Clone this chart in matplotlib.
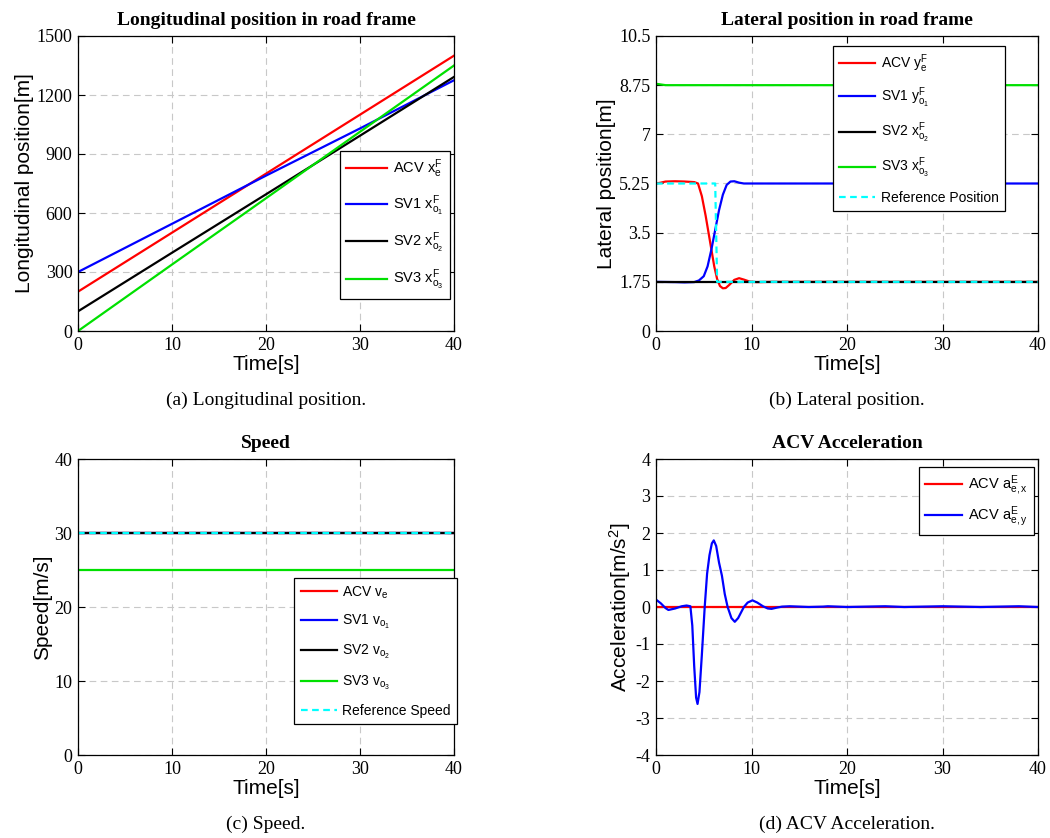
import numpy as np
import matplotlib
matplotlib.use("Agg")
import matplotlib.pyplot as plt

plt.rcParams['mathtext.fontset'] = 'custom'
plt.rcParams['mathtext.rm'] = 'Liberation Sans'
plt.rcParams['mathtext.it'] = 'Liberation Sans'

SERIF = 'Liberation Serif'
SANS = 'Liberation Sans'

# ---------------- data ----------------
# (a) longitudinal position
t_a = [0, 10, 20, 30, 40]
acv_x = [200, 500, 800, 1100, 1400]
sv1_x = [300, 545, 790, 1030, 1275]
sv2_x = [100, 398, 695, 993, 1292]
sv3_x = [0, 338, 675, 1013, 1350]

# (b) lateral position
t_acv_y = [0, 0.5, 1, 2, 3, 4, 4.4, 4.8, 5.2, 5.5, 5.8, 6.1, 6.4, 6.7, 7.0, 7.3, 7.7,
           8.2, 8.7, 9.2, 9.8, 10.5, 12, 20, 30, 40]
acv_y = [5.25, 5.28, 5.32, 5.33, 5.32, 5.30, 5.25, 4.8, 4.1, 3.5, 2.9, 2.3, 1.85, 1.6,
         1.52, 1.53, 1.65, 1.82, 1.88, 1.83, 1.76, 1.74, 1.75, 1.75, 1.75, 1.75]
t_sv1_y = [0, 2, 3, 4, 4.5, 5, 5.4, 5.8, 6.2, 6.6, 7.0, 7.4, 7.8, 8.2, 8.7, 9.2, 20, 40]
sv1_y = [1.75, 1.74, 1.73, 1.74, 1.80, 1.95, 2.3, 2.9, 3.6, 4.3, 4.85, 5.2, 5.32, 5.33,
         5.28, 5.25, 5.25, 5.25]
t_sv2_y = [0, 40]
sv2_y = [1.73, 1.73]
t_sv3_y = [0, 1, 40]
sv3_y = [8.8, 8.75, 8.75]
t_ref_y = [0, 6.2, 6.4, 40]
ref_y = [5.25, 5.25, 1.75, 1.75]

# (c) speed
t_c = [0, 40]
acv_v = [30, 30]
sv1_v = [30, 30]
sv2_v = [30, 30]
sv3_v = [25, 25]
ref_v = [30, 30]

# (d) ACV acceleration
t_ax = [0, 40]
acc_x = [0, 0]
t_ay = [0, 0.5, 1, 1.3, 2, 2.7, 3.2, 3.6, 3.8, 4.0, 4.2, 4.35, 4.55, 4.8, 5.1, 5.35, 5.6,
        5.85, 6.05, 6.3, 6.6, 6.9, 7.2, 7.5, 7.9, 8.25, 8.6, 9.2, 9.6, 10.1, 10.6, 11.2,
        11.7, 12.1, 12.6, 13.2, 14, 15, 16, 17.5, 18, 19, 20, 22, 24, 26, 28, 30, 32,
        34, 36, 38, 40]
acc_y = [0.2, 0.1, -0.03, -0.08, -0.04, 0.02, 0.04, 0.02, -0.5, -1.6, -2.45, -2.62,
         -2.3, -1.3, 0.0, 0.9, 1.4, 1.72, 1.8, 1.65, 1.2, 0.85, 0.35, 0.0, -0.3, -0.4,
         -0.3, 0.0, 0.12, 0.18, 0.12, 0.02, -0.04, -0.05, -0.02, 0.01, 0.02, 0.01, 0.0,
         0.01, 0.02, 0.01, 0.0, 0.01, 0.02, 0.0, 0.01, 0.02, 0.01, 0.0, 0.01, 0.02, 0.0]

x_ticks = [0, 10, 20, 30, 40]

# ---------------- figure ----------------
W, H = 1050, 838
fig = plt.figure(figsize=(W / 100, H / 100), dpi=100)


def make_ax(x0, y0, x1, y1):
    return fig.add_axes([x0 / W, 1 - y1 / H, (x1 - x0) / W, (y1 - y0) / H])


def style(ax, title, ylabel, yticks, yticklabels, ylim, caption):
    ax.set_xlim(0, 40)
    ax.set_ylim(*ylim)
    ax.set_xticks(x_ticks)
    ax.set_yticks(yticks)
    ax.set_xticklabels([str(v) for v in x_ticks], fontfamily=SERIF, fontsize=13)
    ax.set_yticklabels(yticklabels, fontfamily=SERIF, fontsize=13)
    ax.tick_params(direction='in', top=True, right=True, length=5, width=0.8, pad=4)
    ax.grid(True, color='#c8c8c8', linestyle=(0, (6, 4)), linewidth=0.8)
    ax.set_axisbelow(True)
    for s in ax.spines.values():
        s.set_linewidth(0.9)
    ax.set_title(title, fontfamily=SERIF, fontweight='bold', fontsize=14, pad=8)
    ax.set_xlabel('Time[s]', fontfamily=SANS, fontsize=15, labelpad=1)
    ax.set_ylabel(ylabel, fontfamily=SANS, fontsize=15, labelpad=2)
    ax.text(0.5, caption[1], caption[0], transform=ax.transAxes, ha='center', va='center',
            fontfamily=SERIF, fontsize=14)


lw = 1.6


def add_legend(ax, size, anchor, spacing, hl=2.6):
    leg = ax.legend(prop={'family': SANS, 'size': size}, frameon=True, fancybox=False,
                    edgecolor='black', framealpha=1, borderaxespad=0, handlelength=hl,
                    handletextpad=0.4, loc='upper right', bbox_to_anchor=anchor,
                    labelspacing=spacing, borderpad=0.45)
    leg.get_frame().set_linewidth(0.9)
    return leg


# (a)
ax = make_ax(78, 36, 454, 331)
ax.plot(t_a, acv_x, color='red', lw=lw, label=r'ACV $\mathregular{x_e^F}$')
ax.plot(t_a, sv1_x, color='blue', lw=lw, label=r'SV1 $\mathregular{x_{o_1}^F}$')
ax.plot(t_a, sv2_x, color='black', lw=lw, label=r'SV2 $\mathregular{x_{o_2}^F}$')
ax.plot(t_a, sv3_x, color='#00e000', lw=lw, label=r'SV3 $\mathregular{x_{o_3}^F}$')
style(ax, 'Longitudinal position in road frame', 'Longitudinal position[m]',
      [0, 300, 600, 900, 1200, 1500], ['0', '300', '600', '900', '1200', '1500'],
      (0, 1500), ('(a) Longitudinal position.', -0.235))
add_legend(ax, 10.5, ((450 - 78) / 376, 1 - (151 - 36) / 295), 0.9, hl=2.8)

# (b)
ax = make_ax(656, 36, 1038, 331)
ax.plot(t_acv_y, acv_y, color='red', lw=lw, label=r'ACV $\mathregular{y_e^F}$')
ax.plot(t_sv1_y, sv1_y, color='blue', lw=lw, label=r'SV1 $\mathregular{y_{o_1}^F}$')
ax.plot(t_sv2_y, sv2_y, color='black', lw=lw, label=r'SV2 $\mathregular{x_{o_2}^F}$')
ax.plot(t_sv3_y, sv3_y, color='#00e000', lw=lw, label=r'SV3 $\mathregular{x_{o_3}^F}$')
ax.plot(t_ref_y, ref_y, color='cyan', lw=lw, ls=(0, (3, 2)), label='Reference Position')
style(ax, 'Lateral position in road frame', 'Lateral position[m]',
      [0, 1.75, 3.5, 5.25, 7, 8.75, 10.5],
      ['0', '1.75', '3.5', '5.25', '7', '8.75', '10.5'],
      (0, 10.5), ('(b) Lateral position.', -0.235))
add_legend(ax, 10, ((1005 - 656) / 382, 1 - (46 - 36) / 295), 0.78)

# (c)
ax = make_ax(78, 459, 454, 755)
ax.plot(t_c, acv_v, color='red', lw=lw, label=r'ACV $\mathregular{v_e}$')
ax.plot(t_c, sv1_v, color='blue', lw=lw, label=r'SV1 $\mathregular{v_{o_1}}$')
ax.plot(t_c, sv2_v, color='black', lw=lw, label=r'SV2 $\mathregular{v_{o_2}}$')
ax.plot(t_c, sv3_v, color='#00e000', lw=lw, label=r'SV3 $\mathregular{v_{o_3}}$')
ax.plot(t_c, ref_v, color='cyan', lw=lw, ls=(0, (3, 2)), label='Reference Speed')
style(ax, 'Speed', 'Speed[m/s]', [0, 10, 20, 30, 40], ['0', '10', '20', '30', '40'],
      (0, 40), ('(c) Speed.', -0.235))
add_legend(ax, 10, ((457 - 78) / 376, 1 - (578 - 459) / 296), 0.88)

# (d)
ax = make_ax(656, 459, 1038, 755)
ax.plot(t_ax, acc_x, color='red', lw=lw, label=r'ACV $\mathregular{a_{e,x}^E}$')
ax.plot(t_ay, acc_y, color='blue', lw=lw, label=r'ACV $\mathregular{a_{e,y}^E}$')
style(ax, 'ACV Acceleration', r'Acceleration[m/s$\mathregular{^2}$]',
      [-4, -3, -2, -1, 0, 1, 2, 3, 4], ['-4', '-3', '-2', '-1', '0', '1', '2', '3', '4'],
      (-4, 4), ('(d) ACV Acceleration.', -0.235))
add_legend(ax, 10.5, ((1034 - 656) / 382, 1 - (467 - 459) / 296), 0.45, hl=2.5)

fig.savefig('out.png', dpi=100)
